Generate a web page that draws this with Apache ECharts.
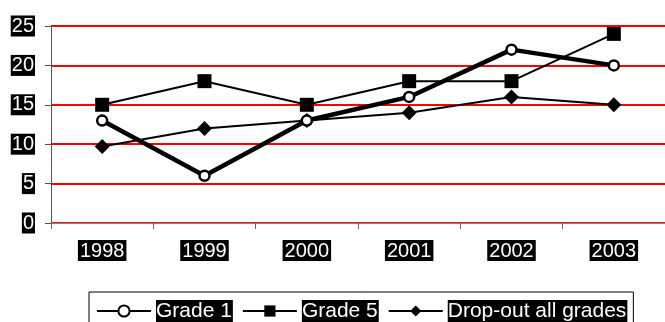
<!DOCTYPE html>
<html><head><meta charset="utf-8">
<script src="https://cdn.jsdelivr.net/npm/echarts@6/dist/echarts.min.js"></script>
<style>html,body{margin:0;padding:0;background:#fff}#c{width:665px;height:322px}</style>
</head><body><div id="c"></div>
<script>
var years = ['1998','1999','2000','2001','2002','2003'];
var grade1 = [13, 6, 13, 16, 22, 20];
var grade5 = [15, 18, 15, 18, 18, 24];
var dropout = [9.7, 12, 13, 14, 16, 15];
var yTicks = [0, 5, 10, 15, 20, 25];

var chart = echarts.init(document.getElementById('c'), null, {renderer: 'canvas'});
var lblFont = 'Arial, "Liberation Sans", sans-serif';
chart.setOption({
  animation: false,
  grid: {left: 51, right: -9, top: 26, bottom: 99, containLabel: false},
  legend: {
    left: 89, top: 292,
    padding: [8, 6, 10, 7],
    borderColor: '#000', borderWidth: 1, borderRadius: 0,
    itemWidth: 54, itemHeight: 14, itemGap: 9,
    textStyle: {color: '#fff', backgroundColor: '#000', fontSize: 21, fontFamily: lblFont, padding: [1, 1, 0, 0]},
    data: ['Grade 1', 'Grade 5', 'Drop-out all grades']
  },
  xAxis: {
    type: 'category', data: years, boundaryGap: true,
    axisLine: {lineStyle: {color: '#888', width: 1}},
    axisTick: {show: true, length: 6, lineStyle: {color: '#666'}},
    axisLabel: {color: '#fff', backgroundColor: '#000', fontSize: 20, fontFamily: lblFont, margin: 17, padding: [1, 2, 0, 2]},
    splitLine: {show: false}
  },
  yAxis: {
    type: 'value', min: 0, max: 25, interval: 5,
    axisLine: {show: true, lineStyle: {color: '#555', width: 1}},
    axisTick: {show: true, length: 6, lineStyle: {color: '#555'}},
    axisLabel: {color: '#fff', backgroundColor: '#000', fontSize: 20, fontFamily: lblFont, margin: 16, padding: [1, 1, 0, 1],
      formatter: function (v) { return yTicks.indexOf(v) >= 0 ? String(v) : ''; }},
    splitLine: {show: true, lineStyle: {color: '#ff0000', width: 2}}
  },
  series: [
    {name: 'Grade 5', type: 'line', data: grade5, symbol: 'rect', symbolSize: 14,
      lineStyle: {color: '#000', width: 2}, itemStyle: {color: '#000'}, z: 3},
    {name: 'Drop-out all grades', type: 'line', data: dropout, symbol: 'diamond', symbolSize: [15, 15],
      lineStyle: {color: '#000', width: 2}, itemStyle: {color: '#000'}, z: 3},
    {name: 'Grade 1', type: 'line', data: grade1, symbol: 'circle', symbolSize: 10,
      lineStyle: {color: '#000', width: 4.5}, itemStyle: {color: '#fff', borderColor: '#000', borderWidth: 2.5}, z: 4}
  ]
});
</script></body></html>
